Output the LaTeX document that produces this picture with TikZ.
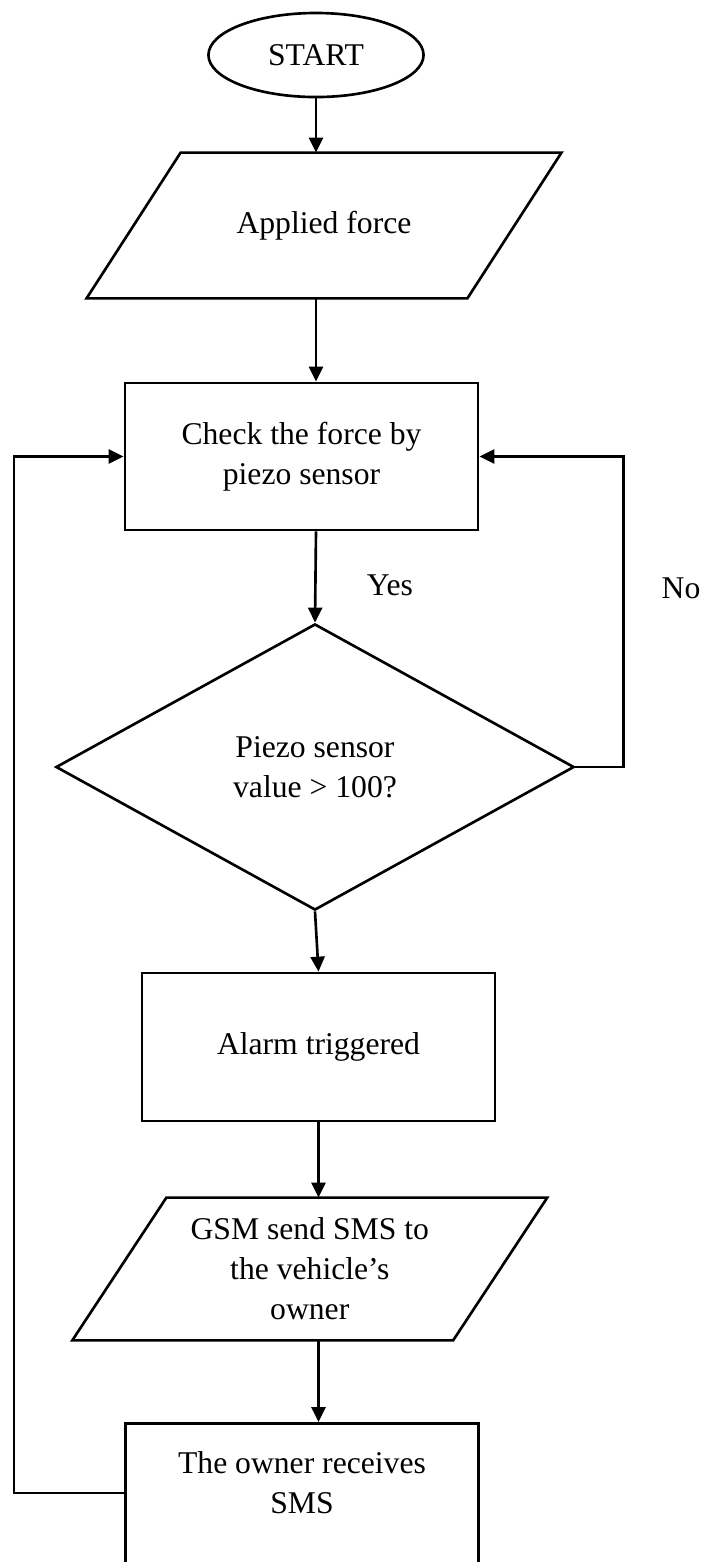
\documentclass[tikz,border=0pt]{standalone}
\usepackage{fontspec}
\setmainfont{Liberation Serif}
\usetikzlibrary{shapes.geometric,arrows.meta}

\begin{document}
\begin{tikzpicture}[x=0.01cm,y=-0.01cm,line width=0.75pt,
  font=\fontsize{9pt}{11.4pt}\selectfont,
  box/.style={draw,rectangle,align=center,minimum width=3.53cm,minimum height=1.47cm},
  io/.style={rectangle,align=center,minimum width=3.78cm,minimum height=1.42cm,
    append after command={\pgfextra{\draw ([xshift=0.47cm]\tikzlastnode.north west)
      -- ([xshift=0.47cm]\tikzlastnode.north east) -- ([xshift=-0.47cm]\tikzlastnode.south east)
      -- ([xshift=-0.47cm]\tikzlastnode.south west) -- cycle;}}},
  arr/.style={-{Triangle[length=1.5mm,width=1.4mm]}}]
\useasboundingbox (0,0) rectangle (706,1562);
% shapes
\node [draw,ellipse,minimum width=2.15cm,minimum height=0.84cm,inner sep=0pt] (start) at (316,55) {START};
\node [io,minimum height=1.43cm] (force) at (324,225.5) {Applied force};
\node [box] (check) at (301.5,456.5) {Check the force by\\piezo sensor};
\node [draw,diamond,align=center,minimum width=5.18cm,minimum height=2.86cm] (test) at (315,767) {Piezo sensor\\value > 100?};
\node [box,minimum height=1.48cm] (alarm) at (318.5,1047) {Alarm triggered};
\node [io,minimum height=1.40cm] (gsm) at (309.75,1269) {GSM send SMS to\\the vehicle’s\\owner};
\node [box,anchor=north,minimum height=0pt,inner ysep=0.28cm,text depth=1.6cm] (owner) at (302,1422) {The owner receives\\SMS};
% labels
\node (yes) at (390,585) {Yes};
\node (no) at (681,588) {No};
% arrows
\draw [arr] (start.south) -- (start.south |- force.north);
\draw [arr] (start.south |- force.south) -- (start.south |- check.north);
\draw [arr] (start.south |- check.south) -- (test.north);
\draw [arr] (test.south) -- (alarm.north);
\draw [arr] (alarm.south) -- (alarm.south |- gsm.north);
\draw [arr] (alarm.south |- gsm.south) -- (alarm.south |- owner.north);
\draw [arr] (test.east) -- ++(48,0) |- (check.east);
\coordinate (back) at (126,1493);
\draw [arr] (back) -- ++(-112,0) |- (check.west);
\end{tikzpicture}
\end{document}
